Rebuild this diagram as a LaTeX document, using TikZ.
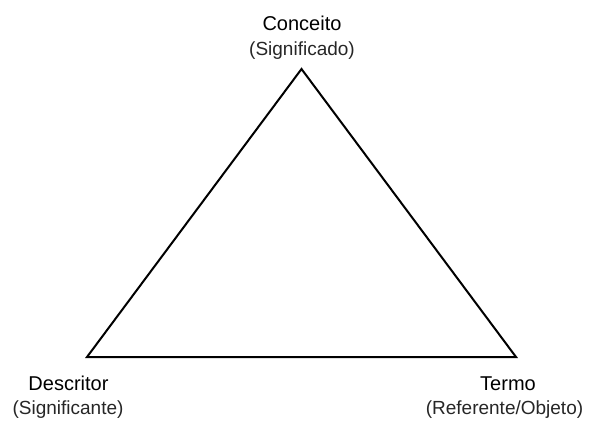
\documentclass[tikz,border=0pt]{standalone}
\usepackage{fontspec}
\setmainfont{Liberation Sans}
\begin{document}
\begin{tikzpicture}[x=1pt,y=-1pt,
  main/.style={font=\fontsize{20}{22}\selectfont, inner sep=0pt, anchor=base},
  sub/.style={font=\fontsize{19}{21}\selectfont, inner sep=0pt, anchor=base, text=black!85},
  edge/.style={line width=2pt, line join=miter}]
\useasboundingbox (0,0) rectangle (591,420);
\coordinate (A) at (301.5,69);
\coordinate (B) at (87,357);
\coordinate (C) at (516,357);
\draw[edge] (A) -- (B) -- (C) -- cycle;
\node[main] (conceito) at (302,31) {Conceito};
\node[sub] (significado) at (302,56) {(Significado)};
\node[main] (descritor) at (68.5,390) {Descritor};
\node[sub] (significante) at (68,414) {(Significante)};
\node[main] (termo) at (508,390) {Termo};
\node[sub] (referente) at (504.5,414) {(Referente/Objeto)};
\end{tikzpicture}
\end{document}
